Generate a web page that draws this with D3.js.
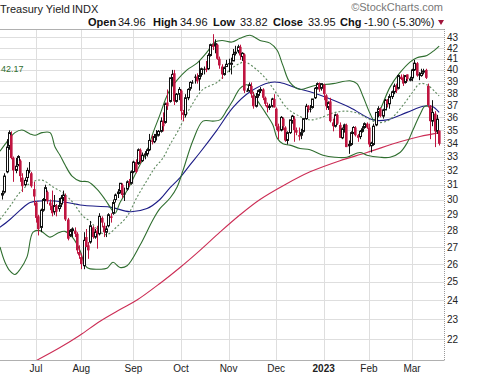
<!DOCTYPE html>
<html><head><meta charset="utf-8">
<script src="https://cdn.jsdelivr.net/npm/d3@7"></script>
<style>body{margin:0;background:#fff;}svg{display:block;font-family:"Liberation Sans",Arial,sans-serif;}</style>
</head><body>
<svg id="c" width="480" height="376"></svg>
<script>
// ---- DATA ----
const dates = [
"2022-06-09","2022-06-10","2022-06-13","2022-06-14","2022-06-15","2022-06-16","2022-06-17","2022-06-21","2022-06-22","2022-06-23","2022-06-24","2022-06-27","2022-06-28","2022-06-29","2022-06-30",
"2022-07-01","2022-07-05","2022-07-06","2022-07-07","2022-07-08","2022-07-11","2022-07-12","2022-07-13","2022-07-14","2022-07-15","2022-07-18","2022-07-19","2022-07-20","2022-07-21","2022-07-22","2022-07-25","2022-07-26","2022-07-27","2022-07-28","2022-07-29",
"2022-08-01","2022-08-02","2022-08-03","2022-08-04","2022-08-05","2022-08-08","2022-08-09","2022-08-10","2022-08-11","2022-08-12","2022-08-15","2022-08-16","2022-08-17","2022-08-18","2022-08-19","2022-08-22","2022-08-23","2022-08-24","2022-08-25","2022-08-26","2022-08-29","2022-08-30","2022-08-31",
"2022-09-01","2022-09-02","2022-09-06","2022-09-07","2022-09-08","2022-09-09","2022-09-12","2022-09-13","2022-09-14","2022-09-15","2022-09-16","2022-09-19","2022-09-20","2022-09-21","2022-09-22","2022-09-23","2022-09-26","2022-09-27","2022-09-28","2022-09-29","2022-09-30",
"2022-10-03","2022-10-04","2022-10-05","2022-10-06","2022-10-07","2022-10-10","2022-10-11","2022-10-12","2022-10-13","2022-10-14","2022-10-17","2022-10-18","2022-10-19","2022-10-20","2022-10-21","2022-10-24","2022-10-25","2022-10-26","2022-10-27","2022-10-28","2022-10-31",
"2022-11-01","2022-11-02","2022-11-03","2022-11-04","2022-11-07","2022-11-08","2022-11-09","2022-11-10","2022-11-11","2022-11-14","2022-11-15","2022-11-16","2022-11-17","2022-11-18","2022-11-21","2022-11-22","2022-11-23","2022-11-25","2022-11-28","2022-11-29","2022-11-30",
"2022-12-01","2022-12-02","2022-12-05","2022-12-06","2022-12-07","2022-12-08","2022-12-09","2022-12-12","2022-12-13","2022-12-14","2022-12-15","2022-12-16","2022-12-19","2022-12-20","2022-12-21","2022-12-22","2022-12-23","2022-12-27","2022-12-28","2022-12-29","2022-12-30",
"2023-01-03","2023-01-04","2023-01-05","2023-01-06","2023-01-09","2023-01-10","2023-01-11","2023-01-12","2023-01-13","2023-01-17","2023-01-18","2023-01-19","2023-01-20","2023-01-23","2023-01-24","2023-01-25","2023-01-26","2023-01-27","2023-01-30","2023-01-31",
"2023-02-01","2023-02-02","2023-02-03","2023-02-06","2023-02-07","2023-02-08","2023-02-09","2023-02-10","2023-02-13","2023-02-14","2023-02-15","2023-02-16","2023-02-17","2023-02-21","2023-02-22","2023-02-23","2023-02-24","2023-02-27","2023-02-28",
"2023-03-01","2023-03-02","2023-03-03","2023-03-06","2023-03-07","2023-03-08","2023-03-09","2023-03-10","2023-03-13","2023-03-14","2023-03-15","2023-03-16","2023-03-17"
];
const open = [
30.3,30.5,31.9,33.8,34.6,32.9,32.0,32.4,32.7,31.5,31.0,31.5,32.0,31.8,30.7,
29.8,28.9,28.2,29.3,30.0,30.5,29.8,29.6,29.2,29.6,29.4,29.7,30.1,30.2,28.7,27.7,28.0,28.0,27.8,26.7,
26.4,25.9,27.6,27.1,27.3,28.2,27.6,28.0,27.8,28.8,28.3,27.9,28.3,28.9,29.1,30.0,30.4,30.6,31.0,30.4,30.7,31.2,31.1,
31.9,32.6,32.5,33.5,32.7,33.1,33.2,33.5,34.2,34.1,34.7,34.6,34.9,35.7,35.6,37.2,37.3,39.3,39.7,37.3,37.9,
38.2,36.4,36.2,37.6,38.4,38.9,39.4,39.4,39.2,39.6,40.1,40.1,40.1,41.3,42.3,42.2,42.3,41.0,40.3,39.6,40.3,
40.6,40.5,40.8,41.5,41.7,42.1,41.2,41.4,38.2,38.2,38.6,37.8,36.9,37.8,38.2,38.3,37.6,37.0,36.8,36.9,37.5,
36.7,35.3,35.0,35.9,35.2,34.2,34.8,35.7,35.9,35.0,34.6,34.6,34.9,35.9,36.9,36.7,36.8,37.6,38.4,38.8,38.4,
38.7,37.8,36.8,37.3,35.6,35.3,36.2,35.4,34.4,35.2,35.4,33.8,33.9,34.8,35.2,34.6,34.5,34.9,35.2,35.5,
35.2,33.8,33.9,35.4,36.4,36.7,36.1,36.6,37.4,37.1,37.7,38.1,38.6,38.4,39.4,39.3,38.9,39.6,39.1,
39.3,40.0,40.6,39.6,39.5,39.8,40.0,38.6,36.9,35.7,36.3,34.9,34.96];
const high = [
30.6,31.8,34.3,34.98,34.9,33.0,32.9,33.1,32.8,31.8,31.5,32.2,32.6,31.9,31.2,
29.9,29.0,29.4,30.1,31.0,30.6,30.0,30.6,30.3,29.7,30.1,30.3,30.6,30.4,28.8,28.1,28.2,28.2,27.9,27.1,
26.6,27.9,28.1,27.3,28.6,28.3,28.1,28.3,29.1,28.9,28.5,28.3,29.1,29.1,30.0,30.4,30.7,31.1,31.1,30.8,31.3,31.4,32.0,
32.7,32.8,33.6,33.6,33.3,33.4,33.6,34.7,34.6,34.7,35.0,35.0,36.0,36.4,37.2,38.3,39.3,40.0,40.0,38.0,38.5,
38.3,36.6,37.9,38.4,39.0,39.1,39.6,39.7,40.8,40.2,40.3,40.8,41.5,42.4,43.3,42.8,42.4,41.2,40.5,40.3,40.9,
41.0,41.1,41.9,42.2,42.3,42.3,41.6,41.5,38.4,38.9,38.9,38.1,38.0,38.3,38.5,38.4,37.7,37.2,37.1,37.6,37.9,
36.8,35.5,36.1,36.0,35.3,34.9,35.8,36.2,36.1,35.2,35.2,35.1,35.9,37.1,37.0,37.0,37.5,38.5,38.9,38.9,38.8,
38.8,37.9,37.3,37.6,35.9,36.3,36.3,35.6,35.2,35.5,35.5,34.2,34.9,35.3,35.3,34.7,35.0,35.3,35.6,35.6,
35.5,34.1,35.5,36.4,36.9,36.8,36.7,37.5,37.5,37.9,38.2,38.8,38.8,39.6,39.6,39.6,39.5,39.6,39.4,
40.1,40.9,40.7,39.8,40.1,40.1,40.1,38.8,37.0,37.4,36.5,36.2,34.96];
const low = [
30.0,30.4,31.8,33.5,32.8,31.2,31.8,32.3,31.2,30.5,30.9,31.2,31.8,30.8,29.6,
28.5,27.7,27.9,29.2,29.9,29.7,29.3,28.9,29.0,28.9,29.2,29.5,29.9,28.6,27.4,27.6,27.6,27.6,26.6,26.3,
25.7,25.7,27.0,26.3,27.2,27.5,27.5,26.9,27.7,28.2,27.6,27.6,28.2,28.5,29.0,29.8,30.1,30.4,30.1,29.9,30.6,30.9,31.0,
31.8,31.8,32.4,32.5,32.6,32.8,33.0,33.4,33.9,34.0,34.2,34.5,34.8,34.9,35.5,36.6,37.2,38.6,37.0,37.2,37.4,
35.8,35.7,36.0,37.4,38.2,38.8,38.8,38.8,38.2,39.4,39.6,39.8,40.0,41.2,41.8,41.5,40.9,40.1,39.2,39.5,40.3,
39.8,39.6,40.8,41.3,41.5,40.9,40.8,38.0,38.1,38.1,37.6,36.7,36.8,37.6,38.0,37.4,36.9,36.4,36.6,36.8,36.8,
35.0,34.3,34.9,35.0,34.1,33.9,34.7,35.5,34.1,34.6,34.2,34.3,34.8,35.8,36.4,36.4,36.7,37.5,38.3,38.1,38.2,
37.4,36.6,36.6,35.6,34.9,35.2,35.4,34.4,34.3,34.8,33.7,33.2,33.8,34.7,34.5,34.1,34.3,34.8,35.1,35.1,
33.7,33.3,33.8,35.3,36.0,36.0,35.9,36.6,36.8,36.7,37.5,37.9,38.0,38.3,39.1,38.6,38.8,39.0,39.0,
39.0,39.9,39.4,39.1,39.4,39.6,39.2,36.8,34.3,35.3,33.7,34.7,33.82];
const close = [
30.4,31.6,33.7,34.8,32.9,32.0,32.3,33.0,31.6,30.9,31.3,32.0,32.0,30.9,30.2,
28.8,28.1,29.3,30.0,30.8,29.9,29.6,29.1,29.6,29.2,29.6,30.1,30.3,28.7,27.5,28.0,28.1,27.8,26.8,26.5,
26.0,27.4,27.0,26.8,28.3,27.6,27.9,27.8,28.9,28.5,27.9,28.1,29.0,28.8,29.8,30.3,30.5,31.1,30.3,30.4,31.2,31.1,31.9,
32.6,31.9,33.5,32.7,33.1,33.2,33.5,34.2,34.1,34.5,34.5,34.9,35.7,35.3,37.1,36.9,39.3,39.6,37.3,37.9,38.3,
36.5,36.2,37.6,38.3,38.9,38.9,39.4,39.0,39.5,40.1,40.1,40.0,41.3,42.3,42.1,42.4,41.0,40.4,39.6,40.2,40.5,
40.5,40.6,41.4,41.6,42.1,41.3,41.5,38.2,38.2,38.7,37.9,36.9,37.7,38.2,38.3,37.6,37.1,36.8,36.9,37.5,36.8,
35.3,34.9,36.0,35.3,34.2,34.8,35.8,36.1,35.0,34.8,34.5,34.8,35.9,36.9,36.7,36.7,37.5,38.4,38.8,38.3,38.8,
37.9,36.9,37.2,35.7,35.3,36.2,35.5,34.4,35.1,35.4,33.7,33.9,34.8,35.2,34.6,34.4,34.9,35.1,35.5,35.2,
33.9,34.0,35.3,36.4,36.7,36.1,36.6,37.4,37.1,37.7,38.1,38.6,38.2,39.5,39.2,38.8,39.5,39.2,39.2,
40.0,40.6,39.5,39.6,39.7,39.9,39.3,37.0,35.7,36.4,34.9,35.85,33.95];

// overlays: [trading-day index, value]
const bbUpper = [[-0.9,33.4],[1.3,33.9],[3.5,34.4],[5.7,34.8],[8.8,35.0],[12.4,34.7],[14.6,34.6],[17.6,34.8],[21.2,34.8],[23.4,33.7],[25.6,33.1],[27.8,32.4],[30.9,31.6],[34.4,31.25],[38.0,31.2],[41.9,30.7],[45.5,30.0],[48.6,29.3],[49.9,29.1],[52.1,29.8],[55.2,30.6],[57.8,31.4],[60.9,32.4],[64.0,33.4],[66.7,34.8],[69.7,36.2],[72.0,37.4],[74.2,38.3],[77.3,39.1],[81.7,40.0],[86.1,40.6],[90.5,41.6],[94.0,42.55],[97.1,42.7],[101.5,42.55],[105.1,42.9],[109.5,43.2],[113.9,42.7],[118.3,42.45],[121.4,41.8],[124.0,40.4],[127.1,38.9],[131.6,38.3],[137.3,38.6],[146.1,38.8],[153.6,39.05],[156.7,38.8],[159.4,37.7],[162.5,36.3],[164.2,35.8],[166.9,36.6],[171.3,38.5],[175.7,39.75],[180.1,40.7],[183.2,41.1],[187.6,41.3],[191.0,41.8],[193.0,42.17]];
const bbMiddle = [[-0.9,28.7],[3.5,29.55],[8.0,30.5],[12.4,31.1],[15.4,31.3],[18.1,31.3],[22.5,30.85],[26.9,30.45],[31.3,29.8],[35.8,28.9],[38.8,28.6],[43.3,27.9],[46.3,27.75],[50.8,28.25],[55.2,28.9],[59.6,30.15],[64.0,31.3],[67.5,32.2],[71.1,32.9],[74.2,33.9],[77.3,34.8],[83.0,36.75],[88.7,38.3],[94.9,38.9],[100.6,40.0],[105.1,40.6],[107.3,40.7],[112.6,40.0],[117.0,39.1],[121.4,37.9],[125.8,36.75],[130.2,36.2],[136.0,35.8],[140.4,35.95],[146.1,36.35],[151.4,36.5],[156.7,36.35],[161.1,35.95],[165.5,35.6],[170.0,35.7],[173.5,36.2],[177.9,37.2],[181.4,38.1],[184.5,38.8],[187.6,38.7],[191.2,38.1],[193.0,37.75]];
const bbLower = [[-0.9,27.0],[1.3,26.1],[3.5,25.6],[5.7,25.4],[8.0,25.7],[11.0,26.4],[13.7,27.9],[16.8,28.0],[21.2,27.6],[24.7,27.85],[27.8,27.95],[31.3,27.55],[34.4,26.8],[37.5,25.8],[43.3,25.7],[46.3,25.75],[49.0,26.1],[52.1,25.8],[55.2,25.9],[60.9,27.1],[66.7,28.7],[69.7,29.4],[74.2,30.1],[77.3,30.85],[79.9,32.0],[84.3,34.2],[88.7,35.7],[93.1,35.7],[96.2,35.8],[99.3,36.6],[102.0,37.4],[105.1,38.4],[108.2,38.7],[112.6,37.4],[116.2,36.4],[119.6,35.4],[121.4,34.4],[124.0,33.95],[127.1,33.85],[131.6,33.6],[136.0,33.5],[141.7,33.1],[147.0,32.95],[152.3,32.95],[158.0,33.3],[161.1,33.1],[166.9,32.95],[171.3,32.95],[175.7,33.3],[178.8,34.0],[181.4,35.0],[184.5,36.2],[186.7,36.9],[189.0,36.8],[191.2,35.8],[193.0,34.5]];
const sma50 = [[-1,28.2],[3.5,28.7],[8,29.3],[12.4,29.8],[16.8,29.9],[23.4,29.9],[28.7,29.8],[36.6,29.6],[47.7,29.5],[56.5,29.2],[64,29.4],[69.7,30.0],[74.2,30.8],[78.6,31.5],[83,32.4],[87.4,33.3],[94.9,35.0],[102,36.8],[109.5,38.1],[118.3,38.9],[122.7,38.9],[130.2,38.4],[136,38.1],[143.5,37.6],[153.6,36.8],[163.8,35.8],[170,35.8],[178.8,36.4],[185.9,36.9],[189.8,36.9],[193,36.4]];
const sma200 = [[8,20.6],[15.4,21.0],[25.6,21.6],[34.4,22.2],[43.3,22.9],[52.1,23.5],[59.6,24.0],[69.7,24.9],[78.6,25.8],[87.4,26.8],[96.2,27.9],[105.1,29.0],[113.9,30.0],[124.9,31.0],[136,31.9],[149.2,32.7],[161.1,33.3],[175.7,34.1],[184.5,34.5],[193,34.8]];

const yTicks = [22,23,24,25,26,27,28,29,30,31,32,33,34,35,36,37,38,39,40,41,42,43];
const monthLabels = ["Jul","Aug","Sep","Oct","Nov","Dec","2023","Feb","Mar"];
const monthStarts = ["2022-07-01","2022-08-01","2022-09-01","2022-10-03","2022-11-01","2022-12-01","2023-01-03","2023-02-01","2023-03-01"];
const header = [["Open",true],["34.96",false],["High",true],["34.96",false],["Low",true],["33.82",false],["Close",true],["33.95",false],["Chg",true],["-1.90 (-5.30%)",false]];
const upperLabel = "42.17";

// ---- CHART ----
const svg = d3.select("#c");
const L = 0, R = 444, T = 29, B = 360;
const x = d3.scaleLinear().domain([-0.894, 195.13]).range([L, R]);
const y = d3.scaleLog().domain([21.01, 43.80]).range([B, T]);

svg.append("rect").attr("width",480).attr("height",376).attr("fill","#fff");
svg.append("defs").append("clipPath").attr("id","clip")
  .append("rect").attr("x",L).attr("y",T).attr("width",R-L).attr("height",B-T);

// gridlines
const grid = svg.append("g");
grid.selectAll("line.h").data(yTicks).join("line")
  .attr("x1",L).attr("x2",R)
  .attr("y1",d=>Math.round(y(d))+0.5).attr("y2",d=>Math.round(y(d))+0.5)
  .attr("stroke","#dedede").attr("stroke-width",1);
grid.selectAll("line.v").data(monthStarts).join("line")
  .attr("x1",d=>Math.round(x(dates.indexOf(d)))+0.5).attr("x2",d=>Math.round(x(dates.indexOf(d)))+0.5)
  .attr("y1",T).attr("y2",B)
  .attr("stroke","#dedede").attr("stroke-width",1);

// frame
svg.append("line").attr("x1",L).attr("x2",R+0.5).attr("y1",T+0.5).attr("y2",T+0.5).attr("stroke","#b0b0b0");
svg.append("line").attr("x1",L).attr("x2",R+0.5).attr("y1",B+0.5).attr("y2",B+0.5).attr("stroke","#b0b0b0");
svg.append("line").attr("x1",R+0.5).attr("x2",R+0.5).attr("y1",T).attr("y2",B+1).attr("stroke","#999").attr("stroke-dasharray","1,1");

// overlays
const plot = svg.append("g").attr("clip-path","url(#clip)");
const line = d3.line().x(d=>x(d[0])).y(d=>y(d[1])).curve(d3.curveCatmullRom.alpha(0.5));
plot.append("path").attr("d",line(sma200)).attr("fill","none").attr("stroke","#cc2d55").attr("stroke-width",1.1);
plot.append("path").attr("d",line(sma50)).attr("fill","none").attr("stroke","#1c1c86").attr("stroke-width",1.1);
plot.append("path").attr("d",line(bbMiddle)).attr("fill","none").attr("stroke","#5f8a5f").attr("stroke-width",1.1).attr("stroke-dasharray","2,2");
plot.append("path").attr("d",line(bbUpper)).attr("fill","none").attr("stroke","#2f6e2f").attr("stroke-width",1.1);
plot.append("path").attr("d",line(bbLower)).attr("fill","none").attr("stroke","#2f6e2f").attr("stroke-width",1.1);

// candles
const idx = d3.range(dates.length);
const RED = "#bf1540", BLK = "#111";
const col = i => (i>0 ? close[i] < close[i-1] : close[i] < open[i]) ? RED : BLK;
const cg = plot.append("g");
cg.selectAll("line").data(idx).join("line")
  .attr("x1",i=>Math.round(x(i))+0.5).attr("x2",i=>Math.round(x(i))+0.5)
  .attr("y1",i=>y(Math.max(high[i],open[i],close[i]))).attr("y2",i=>y(Math.min(low[i],open[i],close[i])))
  .attr("stroke",col).attr("stroke-width",1);
cg.selectAll("rect").data(idx).join("rect")
  .attr("x",i=> close[i]>open[i] ? Math.round(x(i))-0.5 : Math.round(x(i))-1)
  .attr("y",i=>y(Math.max(open[i],close[i])))
  .attr("width",i=> close[i]>open[i] ? 2 : 2.6)
  .attr("height",i=>Math.max(1, y(Math.min(open[i],close[i])) - y(Math.max(open[i],close[i]))))
  .attr("fill",i=> close[i]>open[i] ? "#fff" : col(i))
  .attr("stroke",i=> close[i]>open[i] ? col(i) : "none")
  .attr("stroke-width",1);

// axes labels
svg.append("g").selectAll("text").data(yTicks).join("text")
  .attr("x",447).attr("y",d=>y(d)).attr("dy","0.36em")
  .attr("font-size",10).attr("fill","#222").text(d=>d);
svg.append("g").selectAll("text").data(monthLabels).join("text")
  .attr("x",(d,i)=>x(dates.indexOf(monthStarts[i]))).attr("y",372)
  .attr("text-anchor","middle").attr("font-size",10)
  .attr("font-weight",d=>d==="2023"?"bold":"normal")
  .attr("fill","#222").text(d=>d);

// header
svg.append("text").attr("x",0).attr("y",13).attr("font-size",11).attr("fill","#222").text("Treasury Yield");
svg.append("text").attr("x",72).attr("y",13).attr("font-size",11).attr("fill","#222").text("INDX");
const hx = [88,118,153,180,213,240,273,308,340,364];
const ht = svg.append("text").attr("y",26).attr("font-size",11).attr("fill","#111");
header.forEach((h,i)=>{ ht.append("tspan").attr("x",hx[i]).attr("font-weight",h[1]?"bold":"normal").text(h[0]); });
svg.append("path").attr("d","M438,20 L444,20 L441,25 Z").attr("fill","#a0143a");
svg.append("text").attr("x",443).attr("y",11).attr("text-anchor","end").attr("font-size",11).attr("fill","#777").text("\u00A9StockCharts.com");
svg.append("text").attr("x",1).attr("y",72).attr("font-size",9).attr("fill","#2f6e2f").text(upperLabel);
</script>
</body></html>
